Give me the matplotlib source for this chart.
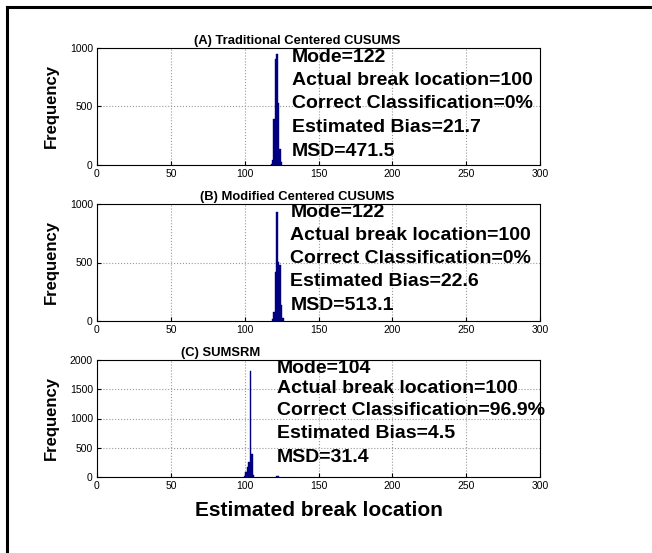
import matplotlib.pyplot as plt
from matplotlib.lines import Line2D

# break location (bin centre) and frequency
loc_a = [118, 119, 120, 121, 122, 123, 124, 125]
freq_a = [10, 40, 390, 910, 945, 530, 140, 25]

loc_b = [119, 120, 121, 122, 123, 124, 125, 126]
freq_b = [20, 75, 420, 935, 505, 480, 140, 25]

loc_c = [100, 101, 102, 103, 104, 105, 106, 122, 123]
freq_c = [20, 80, 170, 260, 1820, 400, 40, 15, 10]

titles = ["(A) Traditional Centered CUSUMS",
          "(B) Modified Centered CUSUMS",
          "(C) SUMSRM"]
notes = [
    ["Mode=122", "Actual break location=100", "Correct Classification=0%",
     "Estimated Bias=21.7", "MSD=471.5"],
    ["Mode=122", "Actual break location=100", "Correct Classification=0%",
     "Estimated Bias=22.6", "MSD=513.1"],
    ["Mode=104", "Actual break location=100", "Correct Classification=96.9%",
     "Estimated Bias=4.5", "MSD=31.4"],
]
yticks = [[0, 500, 1000], [0, 500, 1000], [0, 500, 1000, 1500, 2000]]

plt.rcParams['font.family'] = ['Liberation Sans', 'DejaVu Sans']

fig = plt.figure(figsize=(6.52, 5.53), dpi=100)

# frame round the figure
fig.add_artist(Line2D([7/652, 7/652], [0, 1 - 7/553], color='black', lw=2.2))
fig.add_artist(Line2D([7/652, 1], [1 - 7/553, 1 - 7/553], color='black', lw=2.2))

bottoms = [1 - 165/553, 1 - 321/553, 1 - 477/553]
title_x = [66, 70, 57]
note_y = [[0.92, 0.725, 0.525, 0.32, 0.115],
          [0.93, 0.735, 0.53, 0.335, 0.13],
          [0.925, 0.76, 0.565, 0.37, 0.165]]
note_x = [132, 131, 122]

data = [(loc_a, freq_a), (loc_b, freq_b), (loc_c, freq_c)]
for i, (loc, freq) in enumerate(data):
    ax = fig.add_axes([97/652, bottoms[i], 443/652, 117/553])
    ax.bar(loc, freq, width=1.0, color='#000080', edgecolor='#000080', linewidth=0.3)
    ax.set_xlim(0, 300)
    ax.set_ylim(0, yticks[i][-1])
    ax.set_xticks([0, 50, 100, 150, 200, 250, 300])
    ax.set_yticks(yticks[i])
    ax.grid(True, linestyle=':', color='#999999', linewidth=0.8)
    ax.set_axisbelow(True)
    ax.tick_params(direction='in', length=3, labelsize=7.5, pad=3)
    for s in ax.spines.values():
        s.set_linewidth(0.8)
    ax.set_ylabel("Frequency", fontsize=12, fontweight='bold', labelpad=8)
    ax.text(title_x[i], 1.01, titles[i], transform=ax.get_xaxis_transform(),
            fontsize=9.4, fontweight='bold', va='bottom', ha='left')
    for line, yy in zip(notes[i], note_y[i]):
        ax.text(note_x[i], yy, line, transform=ax.get_xaxis_transform(),
                fontsize=14, fontweight='bold', va='center', ha='left')
    if i == 2:
        ax.set_xlabel("Estimated break location", fontsize=15, fontweight='bold',
                      labelpad=7)

fig.savefig("out.png", dpi=100)
